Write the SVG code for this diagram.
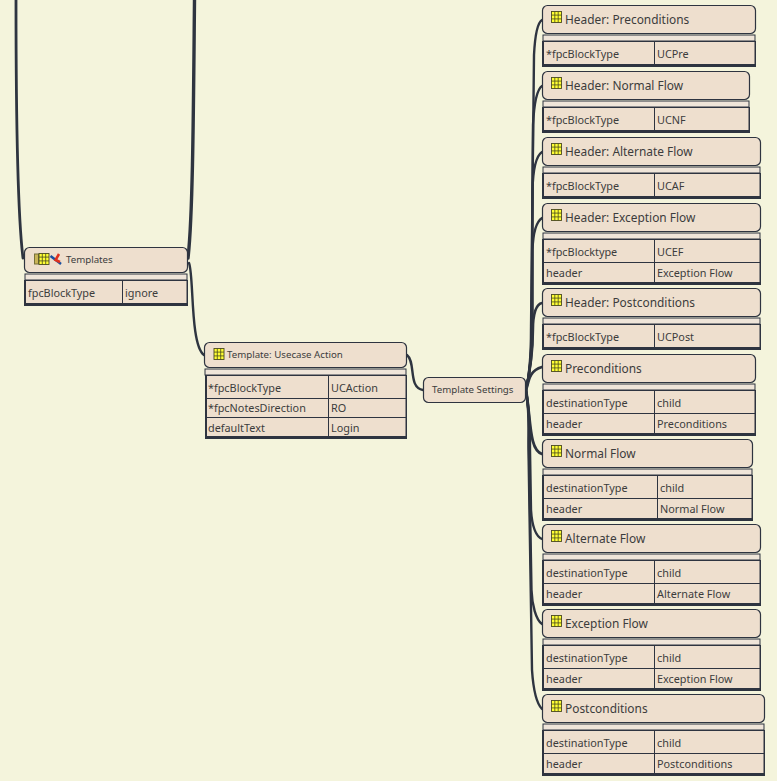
<svg xmlns="http://www.w3.org/2000/svg" width="777" height="781" viewBox="0 0 777 781">
<style>
text{font-family:"Noto Sans",sans-serif;fill:#3c3c3c}
.t{font-size:11.9px}.s{font-size:9.7px}.c{font-size:10.85px}
.box{fill:#eedfce;stroke:#2e3440;stroke-width:1.200}
.strip{fill:#efe5d9;stroke:#2e3440;stroke-width:1}
.outer{fill:#2e3440}
.ln{stroke:#2e3440;stroke-width:1;fill:none}
.cell{fill:#eedfce}
.con{fill:none;stroke:#2e3440;stroke-linecap:round;stroke-width:2.400}
.g{fill:#ffff33;stroke:#4a4a20;stroke-width:.9}
.gl{fill:none;stroke:#4a4a20;stroke-width:.8}
</style>
<defs>
<g id="grid"><rect class="g" x="0.500" y="0.500" width="10" height="11"/><path class="gl" d="M3.800 .5V11.500M7.200 .5V11.500M.5 4.100H10.500M.5 7.900H10.500"/></g>
</defs>
<rect width="777" height="781" fill="#f4f4dc"/>
<g id="connectors">
<path class="con" style="stroke-width:2.800" d="M16 0C16 100 17 210 23 258"/>
<path class="con" style="stroke-width:3.400" d="M194.500 0C193.500 100 193 215 188 258"/>
<path class="con" style="stroke-width:2.400" d="M189 263C194 275 190 345 204 355"/>
<path class="con" style="stroke-width:2.400" d="M407 355C416 362 408 388 423 390"/>
<path class="con" d="M526 390C530 372 531 355 531 330L534 55C535 35 537 23 542 20"/>
<path class="con" d="M526 390C530 372 531.500 355 531.500 330L533 125C534 105 536 90 542 86"/>
<path class="con" d="M526 390C530 372 532 355 532 330L532.500 190C533 170 536 156 542 152"/>
<path class="con" d="M526 390C530 372 532.500 355 532.500 330L532.500 250C533 235 536 222 542 218"/>
<path class="con" d="M526 390C530 372 533 355 533 330C533 315 536 304 542 303"/>
<path class="con" style="stroke-width:2.800" d="M527 387C529 378 531 370 542 367"/>
<path class="con" style="stroke-width:2.800" d="M526 390C531 420 529 450 542 454"/>
<path class="con" d="M526 390C530 415 530 430 530 450L531 510C532 525 535 536 542 539"/>
<path class="con" d="M526 390C530 415 529 430 529 450L531.500 590C532 605 536 620 542 624"/>
<path class="con" d="M526 390C530 415 528 430 528.500 450L532 670C533 685 536 703 542 709"/>
</g>
<g id="templates">
<rect class="box" x="24.500" y="247.500" width="163" height="25" rx="5"/>
<rect class="strip" x="25" y="274" width="162" height="6"/>
<rect class="outer" x="24" y="280" width="164" height="26"/>
<rect class="cell" x="26" y="281" width="160.500" height="22"/>
<path class="ln" d="M122.500 280V303"/>
<rect x="34.500" y="254" width="4" height="10" fill="#c9b458" stroke="#77703a" stroke-width="1"/>
<use href="#grid" x="38.500" y="253"/>
<path d="M50.500 256L61 264" stroke="#1a4fa0" stroke-width="2.500" fill="none"/>
<path d="M59 254L55.500 260L60 262" stroke="#e0301e" stroke-width="2.500" fill="none"/>
<text class="s" x="66" y="263">Templates</text>
<text class="c" x="28" y="297">fpcBlockType</text>
<text class="c" x="125" y="297">ignore</text>
</g>
<g id="usecase-action">
<rect class="box" x="204.500" y="342.500" width="202" height="25" rx="5"/>
<rect class="strip" x="205" y="369" width="201" height="6"/>
<rect class="outer" x="205" y="375" width="202" height="64"/>
<rect class="cell" x="207" y="376" width="198.500" height="60"/>
<path class="ln" d="M328.500 375V436M205 398.500H407M205 417.500H407"/>
<use href="#grid" x="213.500" y="348"/>
<text class="s" x="227" y="358">Template: Usecase Action</text>
<text class="c" x="208" y="392">*fpcBlockType</text><text class="c" x="331" y="392">UCAction</text>
<text class="c" x="208" y="412">*fpcNotesDirection</text><text class="c" x="331" y="412">RO</text>
<text class="c" x="208" y="432">defaultText</text><text class="c" x="331" y="432">Login</text>
</g>
<g id="template-settings">
<rect class="box" x="423.500" y="377.500" width="102" height="25" rx="5"/>
<text class="s" x="432" y="393">Template Settings</text>
</g>
<g id="n1">
<rect class="box" x="542.500" y="5.500" width="213" height="28" rx="5"/>
<rect class="strip" x="543" y="35" width="212" height="6"/>
<rect class="outer" x="542" y="41" width="214" height="26"/>
<rect class="cell" x="544" y="42" width="210.500" height="22"/>
<path class="ln" d="M654.500 41V64"/>
<use href="#grid" x="551" y="11"/>
<text class="t" x="565" y="24">Header: Preconditions</text>
<text class="c" x="546" y="58">*fpcBlockType</text><text class="c" x="657" y="58">UCPre</text>
</g>
<g id="n2">
<rect class="box" x="542.500" y="71.500" width="207" height="28" rx="5"/>
<rect class="strip" x="543" y="101" width="206" height="6"/>
<rect class="outer" x="542" y="107" width="208" height="26"/>
<rect class="cell" x="544" y="108" width="204.500" height="22"/>
<path class="ln" d="M654.500 107V130"/>
<use href="#grid" x="551" y="77"/>
<text class="t" x="565" y="90">Header: Normal Flow</text>
<text class="c" x="546" y="124">*fpcBlockType</text><text class="c" x="657" y="124">UCNF</text>
</g>
<g id="n3">
<rect class="box" x="542.500" y="137.500" width="218" height="28" rx="5"/>
<rect class="strip" x="543" y="167" width="217" height="6"/>
<rect class="outer" x="542" y="173" width="219" height="26"/>
<rect class="cell" x="544" y="174" width="215.500" height="22"/>
<path class="ln" d="M654.500 173V196"/>
<use href="#grid" x="551" y="143"/>
<text class="t" x="565" y="156">Header: Alternate Flow</text>
<text class="c" x="546" y="190">*fpcBlockType</text><text class="c" x="657" y="190">UCAF</text>
</g>
<g id="n4">
<rect class="box" x="542.500" y="203.500" width="218" height="28" rx="5"/>
<rect class="strip" x="543" y="233" width="217" height="6"/>
<rect class="outer" x="542" y="239" width="219" height="46"/>
<rect class="cell" x="544" y="240" width="215.500" height="42"/>
<path class="ln" d="M654.500 239V282M543 262.500H760"/>
<use href="#grid" x="551" y="209"/>
<text class="t" x="565" y="222">Header: Exception Flow</text>
<text class="c" x="546" y="256">*fpcBlocktype</text><text class="c" x="657" y="256">UCEF</text>
<text class="c" x="546" y="277">header</text><text class="c" x="657" y="277">Exception Flow</text>
</g>
<g id="n5">
<rect class="box" x="542.500" y="288.500" width="218" height="28" rx="5"/>
<rect class="strip" x="543" y="318" width="217" height="6"/>
<rect class="outer" x="542" y="324" width="219" height="26"/>
<rect class="cell" x="544" y="325" width="215.500" height="22"/>
<path class="ln" d="M654.500 324V347"/>
<use href="#grid" x="551" y="294"/>
<text class="t" x="565" y="307">Header: Postconditions</text>
<text class="c" x="546" y="341">*fpcBlockType</text><text class="c" x="657" y="341">UCPost</text>
</g>
<g id="n6">
<rect class="box" x="542.500" y="354.500" width="213" height="28" rx="5"/>
<rect class="strip" x="543" y="384" width="212" height="6"/>
<rect class="outer" x="542" y="390" width="214" height="46"/>
<rect class="cell" x="544" y="391" width="210.500" height="42"/>
<path class="ln" d="M654.500 390V433M543 413.500H755"/>
<use href="#grid" x="551" y="360"/>
<text class="t" x="565" y="373">Preconditions</text>
<text class="c" x="546" y="407">destinationType</text><text class="c" x="657" y="407">child</text>
<text class="c" x="546" y="428">header</text><text class="c" x="657" y="428">Preconditions</text>
</g>
<g id="n7">
<rect class="box" x="542.500" y="439.500" width="210" height="28" rx="5"/>
<rect class="strip" x="543" y="469" width="209" height="6"/>
<rect class="outer" x="542" y="475" width="211" height="46"/>
<rect class="cell" x="544" y="476" width="207.500" height="42"/>
<path class="ln" d="M657.500 475V518M543 498.500H752"/>
<use href="#grid" x="551" y="445"/>
<text class="t" x="565" y="458">Normal Flow</text>
<text class="c" x="546" y="492">destinationType</text><text class="c" x="660" y="492">child</text>
<text class="c" x="546" y="513">header</text><text class="c" x="660" y="513">Normal Flow</text>
</g>
<g id="n8">
<rect class="box" x="542.500" y="524.500" width="218" height="28" rx="5"/>
<rect class="strip" x="543" y="554" width="217" height="6"/>
<rect class="outer" x="542" y="560" width="219" height="46"/>
<rect class="cell" x="544" y="561" width="215.500" height="42"/>
<path class="ln" d="M654.500 560V603M543 583.500H760"/>
<use href="#grid" x="551" y="530"/>
<text class="t" x="565" y="543">Alternate Flow</text>
<text class="c" x="546" y="577">destinationType</text><text class="c" x="657" y="577">child</text>
<text class="c" x="546" y="598">header</text><text class="c" x="657" y="598">Alternate Flow</text>
</g>
<g id="n9">
<rect class="box" x="542.500" y="609.500" width="218" height="28" rx="5"/>
<rect class="strip" x="543" y="639" width="217" height="6"/>
<rect class="outer" x="542" y="645" width="219" height="46"/>
<rect class="cell" x="544" y="646" width="215.500" height="42"/>
<path class="ln" d="M654.500 645V688M543 668.500H760"/>
<use href="#grid" x="551" y="615"/>
<text class="t" x="565" y="628">Exception Flow</text>
<text class="c" x="546" y="662">destinationType</text><text class="c" x="657" y="662">child</text>
<text class="c" x="546" y="683">header</text><text class="c" x="657" y="683">Exception Flow</text>
</g>
<g id="n10">
<rect class="box" x="542.500" y="694.500" width="222" height="28" rx="5"/>
<rect class="strip" x="543" y="724" width="221" height="6"/>
<rect class="outer" x="542" y="730" width="223" height="46"/>
<rect class="cell" x="544" y="731" width="219.500" height="42"/>
<path class="ln" d="M654.500 730V773M543 753.500H764"/>
<use href="#grid" x="551" y="700"/>
<text class="t" x="565" y="713">Postconditions</text>
<text class="c" x="546" y="747">destinationType</text><text class="c" x="657" y="747">child</text>
<text class="c" x="546" y="768">header</text><text class="c" x="657" y="768">Postconditions</text>
</g>
</svg>
